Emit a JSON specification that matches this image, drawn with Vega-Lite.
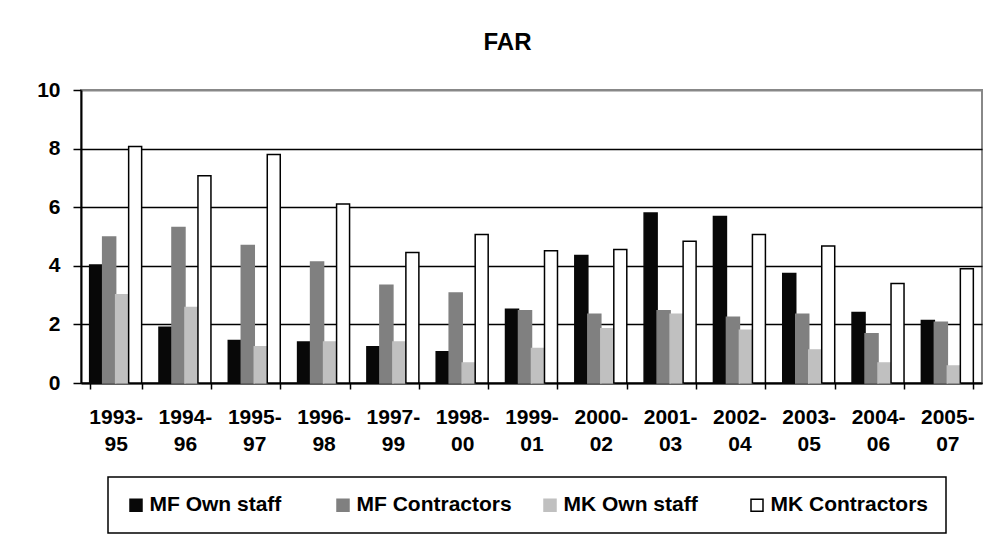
{
  "$schema": "https://vega.github.io/schema/vega-lite/v6.json",
  "autosize": {"type": "none"},
  "width": 901,
  "height": 293,
  "padding": {"left": 81, "top": 90, "right": 20, "bottom": 164},
  "background": "white",
  "title": {
    "text": "FAR",
    "font": "Liberation Sans",
    "fontSize": 24,
    "fontWeight": "bold",
    "color": "black",
    "anchor": "middle",
    "dx": -24,
    "baseline": "alphabetic",
    "offset": 5
  },
  "config": {
    "font": "Liberation Sans",
    "view": {"stroke": "#888888", "strokeWidth": 2},
    "axis": {
      "labelFont": "Liberation Sans",
      "labelFontSize": 21,
      "labelFontWeight": "bold",
      "labelColor": "black",
      "domainColor": "black",
      "tickColor": "black"
    }
  },
  "data": {
    "values": [
      {"period": "1993-95", "series": "MF Own staff", "value": 4.03},
      {"period": "1993-95", "series": "MF Contractors", "value": 4.98},
      {"period": "1993-95", "series": "MK Own staff", "value": 3.01},
      {"period": "1993-95", "series": "MK Contractors", "value": 8.07},
      {"period": "1994-96", "series": "MF Own staff", "value": 1.9},
      {"period": "1994-96", "series": "MF Contractors", "value": 5.31},
      {"period": "1994-96", "series": "MK Own staff", "value": 2.58},
      {"period": "1994-96", "series": "MK Contractors", "value": 7.07},
      {"period": "1995-97", "series": "MF Own staff", "value": 1.45},
      {"period": "1995-97", "series": "MF Contractors", "value": 4.69},
      {"period": "1995-97", "series": "MK Own staff", "value": 1.24},
      {"period": "1995-97", "series": "MK Contractors", "value": 7.8},
      {"period": "1996-98", "series": "MF Own staff", "value": 1.4},
      {"period": "1996-98", "series": "MF Contractors", "value": 4.13},
      {"period": "1996-98", "series": "MK Own staff", "value": 1.4},
      {"period": "1996-98", "series": "MK Contractors", "value": 6.11},
      {"period": "1997-99", "series": "MF Own staff", "value": 1.24},
      {"period": "1997-99", "series": "MF Contractors", "value": 3.34},
      {"period": "1997-99", "series": "MK Own staff", "value": 1.4},
      {"period": "1997-99", "series": "MK Contractors", "value": 4.45},
      {"period": "1998-00", "series": "MF Own staff", "value": 1.07},
      {"period": "1998-00", "series": "MF Contractors", "value": 3.07},
      {"period": "1998-00", "series": "MK Own staff", "value": 0.68},
      {"period": "1998-00", "series": "MK Contractors", "value": 5.07},
      {"period": "1999-01", "series": "MF Own staff", "value": 2.52},
      {"period": "1999-01", "series": "MF Contractors", "value": 2.47},
      {"period": "1999-01", "series": "MK Own staff", "value": 1.18},
      {"period": "1999-01", "series": "MK Contractors", "value": 4.51},
      {"period": "2000-02", "series": "MF Own staff", "value": 4.35},
      {"period": "2000-02", "series": "MF Contractors", "value": 2.35},
      {"period": "2000-02", "series": "MK Own staff", "value": 1.85},
      {"period": "2000-02", "series": "MK Contractors", "value": 4.56},
      {"period": "2001-03", "series": "MF Own staff", "value": 5.8},
      {"period": "2001-03", "series": "MF Contractors", "value": 2.47},
      {"period": "2001-03", "series": "MK Own staff", "value": 2.35},
      {"period": "2001-03", "series": "MK Contractors", "value": 4.84},
      {"period": "2002-04", "series": "MF Own staff", "value": 5.68},
      {"period": "2002-04", "series": "MF Contractors", "value": 2.24},
      {"period": "2002-04", "series": "MK Own staff", "value": 1.8},
      {"period": "2002-04", "series": "MK Contractors", "value": 5.07},
      {"period": "2003-05", "series": "MF Own staff", "value": 3.74},
      {"period": "2003-05", "series": "MF Contractors", "value": 2.35},
      {"period": "2003-05", "series": "MK Own staff", "value": 1.13},
      {"period": "2003-05", "series": "MK Contractors", "value": 4.68},
      {"period": "2004-06", "series": "MF Own staff", "value": 2.41},
      {"period": "2004-06", "series": "MF Contractors", "value": 1.68},
      {"period": "2004-06", "series": "MK Own staff", "value": 0.68},
      {"period": "2004-06", "series": "MK Contractors", "value": 3.4},
      {"period": "2005-07", "series": "MF Own staff", "value": 2.13},
      {"period": "2005-07", "series": "MF Contractors", "value": 2.07},
      {"period": "2005-07", "series": "MK Own staff", "value": 0.58},
      {"period": "2005-07", "series": "MK Contractors", "value": 3.9}
    ]
  },
  "mark": {"type": "bar", "strokeWidth": 1.5},
  "encoding": {
    "x": {
      "field": "period",
      "type": "nominal",
      "sort": null,
      "title": null,
      "scale": {"paddingInner": 0.25, "paddingOuter": 0.125},
      "axis": {
        "labelAngle": 0,
        "labelExpr": "[substring(datum.label, 0, 5), substring(datum.label, 5)]",
        "labelLineHeight": 27,
        "labelBaseline": "top",
        "labelPadding": 17,
        "tickBand": "extent",
        "tickSize": 6,
        "tickWidth": 1.5,
        "domainWidth": 2,
        "labelOverlap": false
      }
    },
    "xOffset": {
      "field": "series",
      "type": "nominal",
      "sort": ["MF Own staff", "MF Contractors", "MK Own staff", "MK Contractors"],
      "scale": {"paddingInner": 0, "paddingOuter": 0}
    },
    "y": {
      "field": "value",
      "type": "quantitative",
      "title": null,
      "scale": {"domain": [0, 10], "nice": false},
      "axis": {
        "values": [0, 2, 4, 6, 8, 10],
        "tickSize": 8,
        "tickWidth": 1.5,
        "labelPadding": 13,
        "domainWidth": 2,
        "grid": true,
        "gridColor": {"condition": {"test": "datum.value == 10", "value": "#888888"}, "value": "black"},
        "gridWidth": {"condition": {"test": "datum.value == 10", "value": 2}, "value": 1.5}
      }
    },
    "fill": {
      "field": "series",
      "type": "nominal",
      "scale": {
        "domain": ["MF Own staff", "MF Contractors", "MK Own staff", "MK Contractors"],
        "range": ["#080808", "#808080", "#c0c0c0", "#ffffff"]
      },
      "legend": {
        "title": null,
        "orient": "none",
        "legendX": 27,
        "legendY": 387,
        "direction": "horizontal",
        "columns": 4,
        "gridAlign": "all",
        "columnPadding": 25,
        "padding": 17.5,
        "strokeColor": "black",
        "symbolType": "square",
        "symbolSize": 144,
        "symbolStrokeWidth": 1.5,
        "labelOffset": 3,
        "labelFont": "Liberation Sans",
        "labelFontSize": 21,
        "labelFontWeight": "bold",
        "labelColor": "black",
        "labelLimit": 400,
        "encode": {"legend": {"update": {"strokeWidth": {"value": 1.5}}}}
      }
    },
    "stroke": {
      "field": "series",
      "type": "nominal",
      "scale": {
        "domain": ["MF Own staff", "MF Contractors", "MK Own staff", "MK Contractors"],
        "range": ["#080808", "#808080", "#c0c0c0", "#000000"]
      },
      "legend": {
        "title": null,
        "orient": "none",
        "legendX": 27,
        "legendY": 387,
        "direction": "horizontal",
        "columns": 4,
        "gridAlign": "all",
        "columnPadding": 25,
        "padding": 17.5,
        "strokeColor": "black",
        "symbolType": "square",
        "symbolSize": 144,
        "symbolStrokeWidth": 1.5,
        "labelOffset": 3,
        "labelFont": "Liberation Sans",
        "labelFontSize": 21,
        "labelFontWeight": "bold",
        "labelColor": "black",
        "labelLimit": 400,
        "encode": {"legend": {"update": {"strokeWidth": {"value": 1.5}}}}
      }
    }
  }
}
